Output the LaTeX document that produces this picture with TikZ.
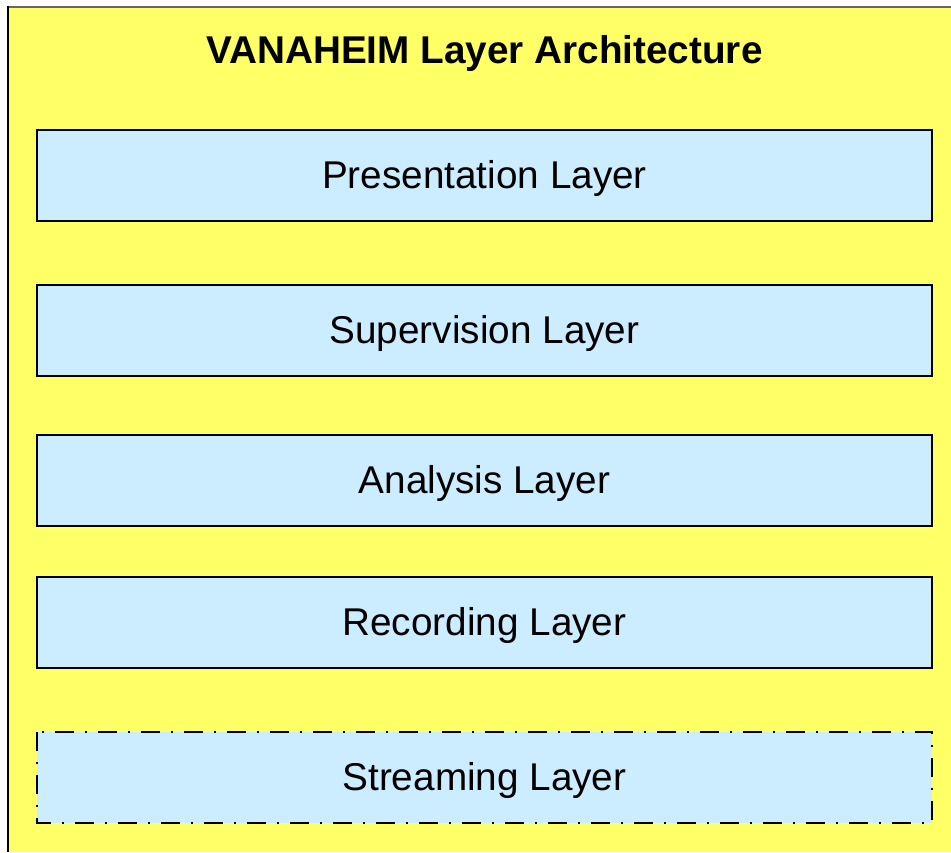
\documentclass[tikz,border=0pt]{standalone}
\usepackage{fontspec}
\setmainfont{Liberation Sans}
\definecolor{bgyellow}{HTML}{FFFF66}
\definecolor{layerblue}{HTML}{CCECFF}
\begin{document}
\begin{tikzpicture}[x=1pt,y=-1pt,
  layerbox/.style={draw=black, line width=2pt, fill=layerblue},
  layertext/.style={font=\fontsize{38.7}{44}\selectfont, inner sep=0pt},
  dashdot/.style={line width=2.5pt, dash pattern=on 19pt off 11pt on 2pt off 11pt}]
\useasboundingbox (0,0) rectangle (951,852);
% background
\fill[bgyellow] (7,6) rectangle (951,852);
\draw[gray!80!black, line width=2pt] (7,7) -- (951,7);
\draw[black, line width=2pt] (8,6) -- (8,852);
% title
\node[font=\bfseries\fontsize{38.7}{44}\selectfont, inner sep=0pt] (title) at (484.5,53) {VANAHEIM Layer Architecture};
% layers
\draw[layerbox] (37,130) rectangle (932,221);
\node[layertext] (pres) at (484.5,178) {Presentation Layer};
\draw[layerbox] (37,285) rectangle (932,376);
\node[layertext] (sup) at (484.5,333) {Supervision Layer};
\draw[layerbox] (37,435) rectangle (932,526);
\node[layertext] (ana) at (484.5,483) {Analysis Layer};
\draw[layerbox] (37,577) rectangle (932,668);
\node[layertext] (rec) at (484.5,625) {Recording Layer};
\draw[layerbox, dashdot] (37,732) rectangle (932,823);
\node[layertext] (str) at (484.5,780) {Streaming Layer};
\end{tikzpicture}
\end{document}
